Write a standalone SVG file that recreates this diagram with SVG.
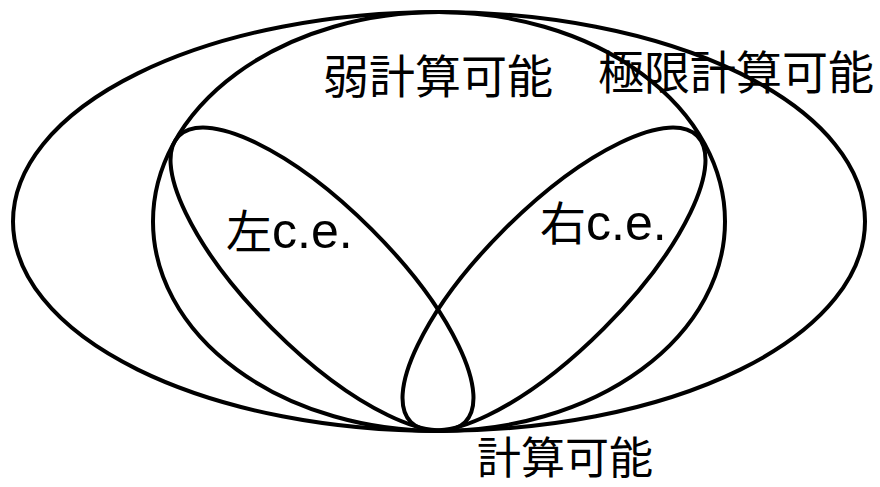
<svg xmlns="http://www.w3.org/2000/svg" width="880" height="487" viewBox="0 0 880 487">
<style>
.set{fill:none;stroke:#000;stroke-width:4}
.lbl{font-family:"Noto Sans CJK JP","Noto Sans CJK SC",sans-serif;font-size:46px;fill:#000}
.lat{font-family:"Liberation Sans","Noto Sans CJK JP",sans-serif;font-size:50px}
</style>
<rect width="880" height="487" fill="#fff"/>
<g id="limit">
<ellipse class="set" cx="439" cy="221.5" rx="426" ry="209.5"/>
<text class="lbl" x="598" y="89">極限計算可能</text>
</g>
<g id="weak">
<ellipse class="set" cx="439" cy="221.5" rx="286" ry="209.5"/>
<text class="lbl" x="323" y="93">弱計算可能</text>
</g>
<g id="left-ce">
<ellipse class="set" cx="0" cy="0" rx="202.4" ry="70.2" transform="translate(322,279) rotate(45)"/>
<text class="lbl" x="226" y="248">左<tspan class="lat">c.e.</tspan></text>
</g>
<g id="right-ce">
<ellipse class="set" cx="0" cy="0" rx="202.4" ry="70.2" transform="translate(554,279) rotate(-45)"/>
<text class="lbl" x="540" y="240">右<tspan class="lat">c.e.</tspan></text>
</g>
<g id="computable">
<text class="lbl" x="477" y="474" style="font-size:44px">計算可能</text>
</g>
<g id="connectors"></g>
</svg>
